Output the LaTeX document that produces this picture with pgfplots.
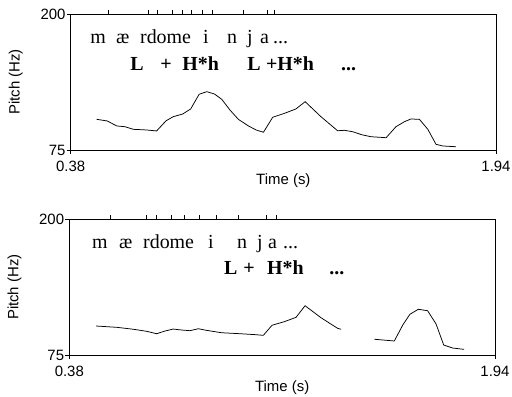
\documentclass[border=0pt]{standalone}
\usepackage{fontspec}
\setmainfont{Liberation Serif}
\setsansfont{Liberation Sans}
\usepackage{pgfplots}
\pgfplotsset{compat=1.18}
\tikzset{
  ann/.style={anchor=base west, inner sep=0pt, font=\fontsize{20}{20}\selectfont},
  annb/.style={anchor=base west, inner sep=0pt, font=\fontsize{20}{20}\selectfont\bfseries},
  contour/.style={black, line width=0.75bp},
}
\pgfplotsset{
  pitchaxis/.style={
    scale only axis, width=425.3bp, height=136bp,
    xmin=0.38, xmax=1.94, ymin=75, ymax=200,
    xtick={0.38,1.94}, ytick={75,200},
    xticklabels={0.38,1.94}, yticklabels={75,200},
    tick align=outside, major tick length=4bp,
    xtick pos=lower, ytick pos=left,
    axis line style={line width=0.9bp},
    every tick/.style={black, line width=0.8bp},
    ticklabel style={font=\fontsize{15}{15}\selectfont\sffamily, inner sep=1bp},
    xticklabel style={yshift=-6bp},
    xlabel={Time (s)}, ylabel={Pitch (Hz)},
    label style={font=\fontsize{15}{15}\selectfont\sffamily},
    xlabel style={at={(axis description cs:0.5,-0.228)}, anchor=center},
    ylabel style={at={(axis description cs:-0.129,0.5)}, anchor=center},
    clip=false,
  },
  topticks/.style={
    scale only axis, width=425.3bp, height=136bp,
    xmin=0.38, xmax=1.94, ymin=75, ymax=200,
    ytick=\empty, xticklabels={},
    xtick pos=upper, tick align=outside, major tick length=4bp,
    axis line style={draw=none},
    every tick/.style={black, line width=0.8bp},
  },
}
\begin{document}
\begin{tikzpicture}
\useasboundingbox (0bp,0bp) rectangle (512bp,397bp);
% ---------- top panel ----------
\begin{axis}[pitchaxis, at={(70.7bp,383bp)}, anchor=north west]
\addplot[contour, no markers] coordinates {
(0.475,103.2)(0.514,101.7)(0.549,97.1)(0.579,96.4)(0.610,94.0)(0.659,93.4)
(0.695,92.5)(0.730,101.9)(0.756,105.6)(0.791,108.1)(0.820,112.7)(0.851,126.2)
(0.879,128.6)(0.907,126.5)(0.934,121.6)(0.964,111.8)(0.995,103.2)(1.032,97.1)
(1.060,93.4)(1.087,91.3)(1.121,105.1)(1.164,108.7)(1.206,112.7)(1.240,119.4)
(1.298,105.6)(1.359,92.7)(1.384,93.1)(1.414,91.8)(1.451,88.8)(1.482,87.2)
(1.537,86.3)(1.573,96.4)(1.604,101.0)(1.628,103.5)(1.659,103.2)(1.690,94.0)
(1.720,80.2)(1.745,78.7)(1.793,78.0)
};
\node[ann] at (axis cs:0.451,173.1) {m};
\node[ann] at (axis cs:0.546,173.1) {æ};
\node[ann] at (axis cs:0.634,173.1) {rdome};
\node[ann] at (axis cs:0.865,173.1) {i};
\node[ann] at (axis cs:0.953,173.1) {n};
\node[ann] at (axis cs:1.026,173.1) {j};
\node[ann] at (axis cs:1.074,173.1) {a};
\node[ann] at (axis cs:1.122,173.1) {...};
\node[annb] at (axis cs:0.598,148.5) {L};
\node[annb] at (axis cs:0.708,148.5) {+};
\node[annb] at (axis cs:0.789,148.5) {H*h};
\node[annb] at (axis cs:1.027,148.5) {L};
\node[annb] at (axis cs:1.096,148.5) {+H*h};
\node[annb] at (axis cs:1.371,148.5) {...};
\end{axis}
\begin{axis}[topticks, at={(70.7bp,383bp)}, anchor=north west,
  xtick={0.520,0.664,0.697,0.752,0.789,0.821,0.862,0.898,1.012,1.100,1.126}]
\end{axis}
% ---------- bottom panel ----------
\begin{axis}[pitchaxis, at={(69.3bp,177.7bp)}, anchor=north west, width=425.7bp, height=135.7bp,
  xlabel style={at={(axis description cs:0.5,-0.24)}}]
\addplot[contour, no markers] coordinates {
(0.478,101.7)(0.554,100.5)(0.615,98.7)(0.664,96.8)(0.700,94.6)(0.731,97.1)
(0.761,98.9)(0.792,98.0)(0.822,97.4)(0.853,99.2)(0.883,97.7)(0.938,95.5)
(1.006,94.6)(1.064,93.7)(1.091,93.1)(1.123,102.4)(1.168,105.7)(1.211,109.7)
(1.244,120.4)(1.302,109.4)(1.363,99.6)(1.376,98.7)
};
\addplot[contour, no markers] coordinates {
(1.498,89.5)(1.571,87.9)(1.602,102.6)(1.628,112.5)(1.659,117.1)(1.693,115.8)
(1.724,103.6)(1.752,84.2)(1.785,81.4)(1.827,80.2)
};
\node[ann] at (axis cs:0.463,172.9) {m};
\node[ann] at (axis cs:0.562,172.9) {æ};
\node[ann] at (axis cs:0.650,172.9) {rdome};
\node[ann] at (axis cs:0.888,172.9) {i};
\node[ann] at (axis cs:0.994,172.9) {n};
\node[ann] at (axis cs:1.068,172.9) {j};
\node[ann] at (axis cs:1.108,172.9) {a};
\node[ann] at (axis cs:1.163,172.9) {...};
\node[annb] at (axis cs:0.947,148.7) {L};
\node[annb] at (axis cs:1.017,148.7) {+};
\node[annb] at (axis cs:1.104,148.7) {H*h};
\node[annb] at (axis cs:1.332,148.7) {...};
\end{axis}
\begin{axis}[topticks, at={(69.3bp,177.7bp)}, anchor=north west, width=425.7bp, height=135.7bp,
  xtick={0.529,0.661,0.701,0.753,0.800,0.855,0.918,0.998,1.101,1.138}]
\end{axis}
\end{tikzpicture}
\end{document}
